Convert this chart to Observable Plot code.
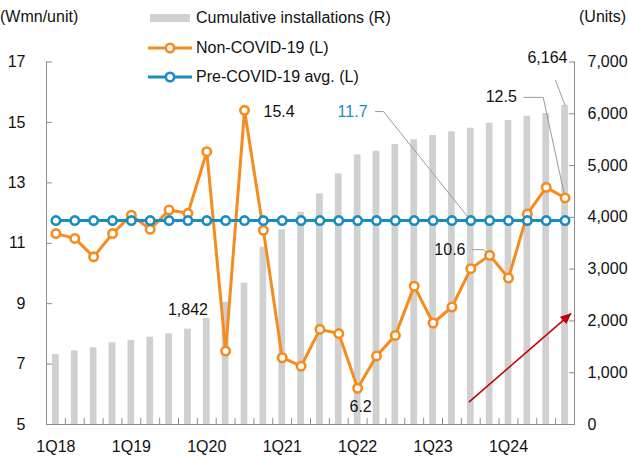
<!DOCTYPE html>
<html><head><meta charset="utf-8">
<script src="https://cdn.jsdelivr.net/npm/d3@7"></script>
<script src="https://cdn.jsdelivr.net/npm/@observablehq/plot@0.6"></script>
<style>
body{margin:0;background:#fff;}
#wrap{position:relative;width:628px;height:462px;overflow:hidden;font-family:"Liberation Sans",Arial,sans-serif;color:#111;}
#wrap > svg{position:absolute;left:0;top:0;}
.lg{position:absolute;left:148px;height:20px;display:flex;align-items:center;font-size:16px;white-space:nowrap;}
.lg svg{margin-right:4px;}
.ttl{position:absolute;font-size:16px;line-height:20px;white-space:nowrap;}
</style></head><body><div id="wrap"></div>
<script>
// ---- data ----
const quarters = ["1Q18","2Q18","3Q18","4Q18","1Q19","2Q19","3Q19","4Q19","1Q20","2Q20","3Q20","4Q20","1Q21","2Q21","3Q21","4Q21","1Q22","2Q22","3Q22","4Q22","1Q23","2Q23","3Q23","4Q23","1Q24","2Q24","3Q24","4Q24"];
const installations = [1352,1423,1481,1577,1622,1686,1751,1842,2050,2361,2728,3423,3759,4099,4454,4840,5207,5277,5406,5497,5580,5651,5721,5818,5870,5953,6005,6164];
const nonCovid = [11.32,11.16,10.55,11.32,11.93,11.46,12.10,11.99,14.03,7.43,15.4,11.43,7.21,6.93,8.15,8.01,6.2,7.27,7.95,9.58,8.36,8.89,10.16,10.6,9.85,11.97,12.85,12.5];
const preCovidAvg = 11.75;
const leftTicks = [5,7,9,11,13,15,17];
const rightTicks = [0,1000,2000,3000,4000,5000,6000,7000];
const xTickLabels = ["1Q18","1Q19","1Q20","1Q21","1Q22","1Q23","1Q24"];
const seriesNames = ["Cumulative installations (R)","Non-COVID-19 (L)","Pre-COVID-19 avg. (L)"];
const axisTitles = ["(Wmn/unit)","(Units)"];
const leftDomain = [5,17];
const rightDomain = [0,7000];
// annotation anchors (quarter index, left-axis value)
const leaders = [
  {id:"10.6", pts:[[22.09,10.79],[22.67,10.79],[23,10.6]]},
  {id:"11.7", pts:[[16.95,15.36],[17.37,15.36],[22,11.75]]},
  {id:"12.5", pts:[[24.81,15.83],[25.84,15.83],[27,12.5]]},
  {id:"6,164", pts:[[26.49,16.39],[27,null]]}
];
const trendArrow = [{x1:21.9, y1:5.74, x2:27.33, y2:8.68}];

// ---- helpers ----
const FONT = '"Liberation Sans",Arial,sans-serif';
const FS = 16;
const toL = r => leftDomain[0] + (r - rightDomain[0]) / (rightDomain[1]-rightDomain[0]) * (leftDomain[1]-leftDomain[0]);
const fromL = v => rightDomain[0] + (v - leftDomain[0]) / (leftDomain[1]-leftDomain[0]) * (rightDomain[1]-rightDomain[0]);
const fmt = d3.format(",");
const ORANGE = "#F68B1F", BLUE = "#1A8CBF", GRAY_BAR = "#d0d0d0", AXIS = "#8c8c8c", LEAD = "#9a9a9a", RED = "#C00000";

const rows = quarters.map((q,i) => ({i, q, inst: installations[i], inst_l: toL(installations[i]), nc: nonCovid[i], avg: preCovidAvg}));
const labelIdx = xTickLabels.map(l => quarters.indexOf(l));
const edges = d3.range(quarters.length + 1).map(i => i - 0.5);
leaders[3].pts[1][1] = toL(installations[27]);
const leaderPts = leaders.flatMap(l => l.pts.map(([x,y]) => ({id:l.id, x, y})));

function triHead(color) {
  const m = d3.create("svg:marker")
    .attr("viewBox","-11 -5 11 10").attr("markerWidth",11).attr("markerHeight",10)
    .attr("markerUnits","userSpaceOnUse").attr("refX",0).attr("refY",0).attr("orient","auto");
  m.append("path").attr("d","M-11,-5L0,0L-11,5Z").attr("fill",color).attr("stroke","none");
  return m.node();
}

const texts = [
  {t: fmt(installations[7]), x:7, y: toL(installations[7]), dx:0, dy:-19, a:"middle", c:"#111"},
  {t: String(nonCovid[10]), x:10, y: nonCovid[10], dx:19, dy:2, a:"start", c:"#111"},
  {t: String(nonCovid[16]), x:16, y: nonCovid[16], dx:3, dy:19, a:"middle", c:"#111"},
  {t: String(nonCovid[23]), x:leaders[0].pts[0][0], y:leaders[0].pts[0][1], dx:-7, dy:0, a:"end", c:"#111"},
  {t: "11.7", x:leaders[1].pts[0][0], y:leaders[1].pts[0][1], dx:-8, dy:0, a:"end", c:BLUE},
  {t: String(nonCovid[27]), x:leaders[2].pts[0][0], y:leaders[2].pts[0][1], dx:-7, dy:0, a:"end", c:"#111"},
  {t: fmt(installations[27]), x:leaders[3].pts[0][0], y:leaders[3].pts[0][1], dx:12, dy:-22.5, a:"end", c:"#111"}
];

const chart = Plot.plot({
  width: 628, height: 462,
  marginTop: 61.5, marginBottom: 38, marginLeft: 46, marginRight: 54,
  x: {type:"linear", domain:[-0.5, quarters.length - 0.5], axis:null},
  y: {domain: leftDomain, axis:null},
  style: {fontFamily: FONT, fontSize: FS + "px", color:"#111", background:"transparent", overflow:"visible"},
  marks: [
    Plot.rect(rows, {x1: d => d.i - 0.178, x2: d => d.i + 0.178, y1: () => leftDomain[0], y2: "inst_l", fill: GRAY_BAR}),
    // frame
    Plot.ruleY([leftDomain[0]], {stroke: AXIS}),
    Plot.ruleX([-0.5, quarters.length - 0.5], {stroke: AXIS}),
    // left axis
    Plot.axisY(leftTicks, {anchor:"left", tickSize:0, tickPadding:21, label:null, fill:"#111", fontSize:FS}),
    Plot.axisY(leftTicks, {anchor:"left", tickSize:6, dx:6, tickFormat:() => "", label:null, stroke: AXIS}),
    // right axis
    Plot.axisY(rightTicks.map(toL), {anchor:"right", tickSize:0, tickPadding:13, label:null, textAnchor:"start", fontSize:FS, fill:"#111", tickFormat: v => fmt(Math.round(fromL(v)))}),
    Plot.axisY(rightTicks.map(toL), {anchor:"right", tickSize:6, dx:-6, tickFormat:() => "", label:null, stroke: AXIS}),
    // bottom axis
    Plot.axisX(labelIdx, {anchor:"bottom", tickSize:0, tickPadding:16, label:null, fontSize:FS, fill:"#111", tickFormat: i => quarters[i]}),
    Plot.axisX(edges, {anchor:"bottom", tickSize:6, dy:-6, tickFormat:() => "", label:null, stroke: AXIS}),
    // leaders
    Plot.line(leaderPts, {x:"x", y:"y", z:"id", stroke: LEAD, strokeWidth:1}),
    // trend arrow
    Plot.link(trendArrow, {x1:"x1", y1:"y1", x2:"x2", y2:"y2", stroke: RED, strokeWidth:1.6, markerEnd: triHead}),
    // series
    Plot.line(rows, {x:"i", y:"nc", stroke: ORANGE, strokeWidth:3}),
    Plot.dot(rows, {x:"i", y:"nc", r:4.2, stroke: ORANGE, strokeWidth:2.6, fill:"white"}),
    Plot.line(rows, {x:"i", y:"avg", stroke: BLUE, strokeWidth:3}),
    Plot.dot(rows, {x:"i", y:"avg", r:4.2, stroke: BLUE, strokeWidth:2.6, fill:"white"}),
    // labels
    ...texts.map(d => Plot.text([d], {x:"x", y:"y", text:"t", dx:d.dx, dy:d.dy, textAnchor:d.a, fill:d.c, fontSize:FS}))
  ]
});
const wrap = document.getElementById("wrap");
wrap.appendChild(chart);

// legend and axis titles (HTML overlay)
const lgRows = [
  {name: seriesNames[0], top: 8, kind: "bar", color: GRAY_BAR},
  {name: seriesNames[1], top: 38, kind: "line", color: ORANGE},
  {name: seriesNames[2], top: 67, kind: "line", color: BLUE}
];
for (const r of lgRows) {
  const div = document.createElement("div");
  div.className = "lg";
  div.style.top = r.top + "px";
  const sw = r.kind === "bar"
    ? `<svg width="44" height="20"><rect x="2" y="6" width="40" height="8" fill="${r.color}"/></svg>`
    : `<svg width="44" height="20"><line x1="0" y1="10" x2="44" y2="10" stroke="${r.color}" stroke-width="3"/><circle cx="22" cy="10" r="4.2" fill="white" stroke="${r.color}" stroke-width="2.6"/></svg>`;
  div.innerHTML = sw + `<span>${r.name}</span>`;
  wrap.appendChild(div);
}
const t1 = document.createElement("div"); t1.className = "ttl"; t1.style.left = "0px"; t1.style.top = "7px"; t1.textContent = axisTitles[0]; wrap.appendChild(t1);
const t2 = document.createElement("div"); t2.className = "ttl"; t2.style.left = "579px"; t2.style.top = "7px"; t2.textContent = axisTitles[1]; wrap.appendChild(t2);
</script>
</body></html>
